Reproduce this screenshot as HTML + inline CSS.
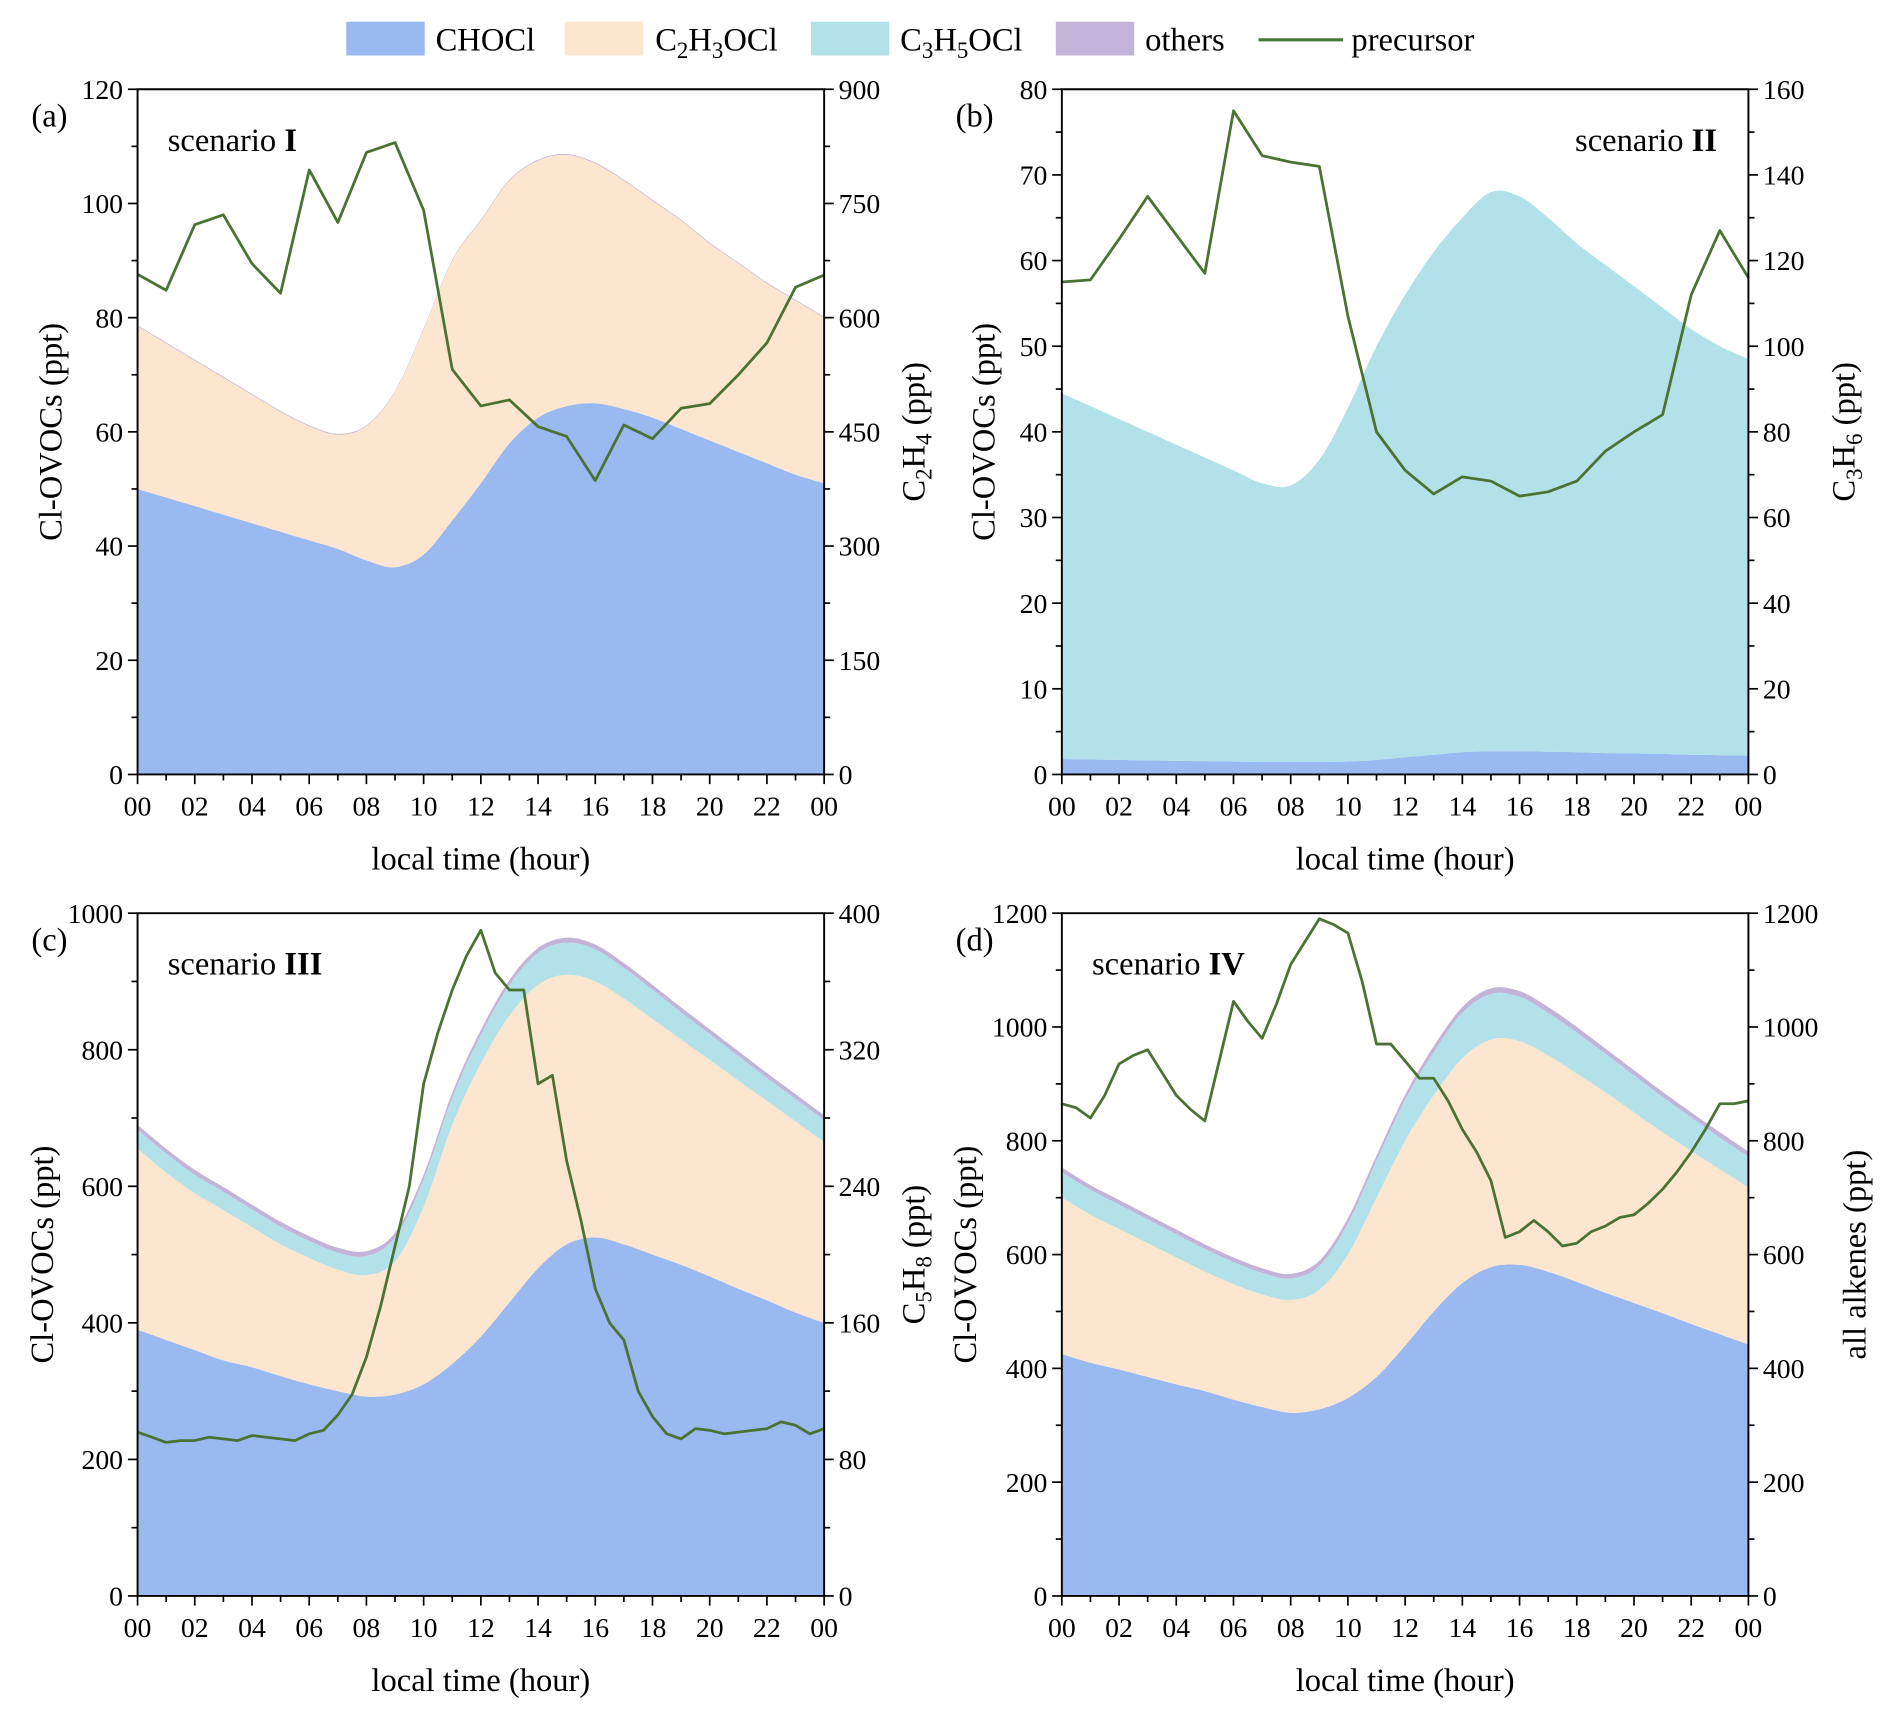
<!DOCTYPE html>
<html><head><meta charset="utf-8"><style>
html,body{margin:0;padding:0;background:#fff;}
svg{display:block;font-family:"Liberation Serif",serif;}
</style></head><body>
<svg id="fig" width="1892" height="1719" viewBox="0 0 1568 1425" preserveAspectRatio="none" xmlns="http://www.w3.org/2000/svg">
<g font-size="27">
 <rect x="287" y="18" width="65" height="28" fill="#9ab9f0"/>
 <text x="361" y="42">CHOCl</text>
 <rect x="468" y="18" width="65" height="28" fill="#fde6cf"/>
 <text x="543" y="42">C<tspan font-size="19" dy="6">2</tspan><tspan dy="-6">H</tspan><tspan font-size="19" dy="6">3</tspan><tspan dy="-6">OCl</tspan></text>
 <rect x="672" y="18" width="65" height="28" fill="#b3e1e9"/>
 <text x="746" y="42">C<tspan font-size="19" dy="6">3</tspan><tspan dy="-6">H</tspan><tspan font-size="19" dy="6">5</tspan><tspan dy="-6">OCl</tspan></text>
 <rect x="875" y="18" width="65" height="28" fill="#c4b3d9"/>
 <text x="949" y="42">others</text>
 <line x1="1043" y1="33" x2="1113" y2="33" stroke="#4a7232" stroke-width="2.5"/>
 <text x="1120" y="42">precursor</text>
</g>
</svg>
<script>
const hours=[0,1,2,3,4,5,6,7,8,9,10,11,12,13,14,15,16,17,18,19,20,21,22,23,24];
const halfHours=[0,0.5,1,1.5,2,2.5,3,3.5,4,4.5,5,5.5,6,6.5,7,7.5,8,8.5,9,9.5,10,10.5,11,11.5,12,12.5,13,13.5,14,14.5,15,15.5,16,16.5,17,17.5,18,18.5,19,19.5,20,20.5,21,21.5,22,22.5,23,23.5,24];
const xTickLabels=["00","02","04","06","08","10","12","14","16","18","20","22","00"];
// panel a
const aCHOCl=[50,48.5,47,45.5,44,42.5,41,39.5,37.5,36.3,38.5,44.5,51,58,62.5,64.5,65,64,62.5,60.5,58.5,56.5,54.5,52.5,51];
const aC2H3OCl=[28.5,27,25.5,24,22.5,21,20,20,23.5,30.7,39.5,45.5,46,46,45,44,42,40,38,36.5,34.5,33,31.5,30.5,29];
const aC3H5OCl=[0,0,0,0,0,0,0,0,0,0,0,0,0,0,0,0,0,0,0,0,0,0,0,0,0];
const aOthers=[0.15,0.15,0.15,0.15,0.15,0.15,0.15,0.15,0.15,0.15,0.15,0.15,0.15,0.15,0.15,0.15,0.15,0.15,0.15,0.15,0.15,0.15,0.15,0.15,0.15];
const aPrecursor=[657,636,722,735,671,632,794,725,817,830,741,532,484,492,457,444,386,459,441,481,487,525,567,640,656];
// panel b
const bCHOCl=[1.8,1.75,1.7,1.65,1.6,1.55,1.5,1.45,1.45,1.45,1.5,1.7,2,2.3,2.6,2.7,2.7,2.65,2.6,2.5,2.45,2.4,2.3,2.25,2.2];
const bC2H3OCl=[0,0,0,0,0,0,0,0,0,0,0,0,0,0,0,0,0,0,0,0,0,0,0,0,0];
const bC3H5OCl=[42.7,41.25,39.8,38.35,36.9,35.45,34,32.55,32.3,35.3,41.3,48.3,54,58.7,62.4,65.3,64.8,62.35,59.4,57,54.55,52.1,49.7,47.75,46.3];
const bOthers=[0,0,0,0,0,0,0,0,0,0,0,0,0,0,0,0,0,0,0,0,0,0,0,0,0];
const bPrecursor=[115,115.5,125,135,126,117,155,144.5,143,142,107,80,71,65.5,69.5,68.5,65,66,68.5,75.5,80,84,112,127,116];
// panel c
const cCHOCl=[390,375,360,345,335,322,310,300,292,295,310,340,380,430,480,515,525,515,500,485,468,450,433,415,400];
const cC2H3OCl=[265,245,230,220,205,193,185,178,178,195,260,350,400,420,415,395,375,360,345,330,317,305,292,280,265];
const cC3H5OCl=[28,28,27,27,26,26,25,25,28,35,40,40,42,45,47,47,47,45,43,40,38,36,34,33,32];
const cOthers=[7,7,7,7,7,7,7,7,7,7,7,7,7,7,7,7,7,7,7,7,7,7,7,7,7];
const cPrecursor=[96,93,90,91,91,93,92,91,94,93,92,91,95,97,106,118,140,170,205,240,300,330,355,375,390,365,355,355,300,305,255,220,180,160,150,120,105,95,92,98,97,95,96,97,98,102,100,95,98];
// panel d
const dCHOCl=[425,410,398,385,372,360,345,332,322,328,348,385,440,500,550,578,582,570,552,533,515,497,478,460,442];
const dC2H3OCl=[275,260,247,235,223,210,203,198,198,210,252,315,360,380,395,400,393,380,366,352,335,318,304,290,276];
const dC3H5OCl=[45,44,43,42,41,40,39,38,38,42,55,65,72,76,80,80,78,75,72,68,65,62,59,56,54];
const dOthers=[8,8,8,8,8,8,8,8,8,9,9,9,9,10,10,10,10,10,10,9,9,9,9,9,9];
const dPrecursor=[865,858,840,880,935,950,960,920,880,855,835,940,1045,1010,980,1040,1110,1150,1190,1180,1165,1080,970,970,940,910,910,870,820,780,730,630,640,660,640,615,620,640,650,665,670,690,715,745,780,820,865,865,870];

const NS="http://www.w3.org/2000/svg";
const svg=document.getElementById('fig');
function mk(tag,attrs,parent){const e=document.createElementNS(NS,tag);for(const k in attrs)e.setAttribute(k,attrs[k]);(parent||svg).appendChild(e);return e;}
const COLORS={CHOCl:"#9ab9f0",C2:"#fde6cf",C3:"#b3e1e9",oth:"#c4b3d9"};

const panels=[
 {id:"a",x0:114,x1:683,y0:74,y1:642,lmax:120,lmaj:20,rmax:900,rmaj:150,series:[aCHOCl,aC2H3OCl,aC3H5OCl,aOthers],prec:aPrecursor,px:hours,tag:"(a)",scen:"scenario ",num:"I",scenRight:false,lt:42,rt:757,rtitle:["C","2","H","4"," (ppt)"]},
 {id:"b",x0:880,x1:1449,y0:74,y1:642,lmax:80,lmaj:10,rmax:160,rmaj:20,series:[bCHOCl,bC2H3OCl,bC3H5OCl,bOthers],prec:bPrecursor,px:hours,tag:"(b)",scen:"scenario ",num:"II",scenRight:true,lt:815,rt:1528,rtitle:["C","3","H","6"," (ppt)"]},
 {id:"c",x0:114,x1:683,y0:757,y1:1323,lmax:1000,lmaj:200,rmax:400,rmaj:80,series:[cCHOCl,cC2H3OCl,cC3H5OCl,cOthers],prec:cPrecursor,px:halfHours,tag:"(c)",scen:"scenario ",num:"III",scenRight:false,lt:35,rt:757,rtitle:["C","5","H","8"," (ppt)"]},
 {id:"d",x0:880,x1:1449,y0:757,y1:1323,lmax:1200,lmaj:200,rmax:1200,rmaj:200,series:[dCHOCl,dC2H3OCl,dC3H5OCl,dOthers],prec:dPrecursor,px:halfHours,tag:"(d)",scen:"scenario ",num:"IV",scenRight:false,lt:800,rt:1537,rtitle:null}
];
const names=["chocl","c2h3ocl","c3h5ocl","others"];
const cols=[COLORS.CHOCl,COLORS.C2,COLORS.C3,COLORS.oth];

function smoothPts(xs,ys,n){const out=[];for(let i=0;i<xs.length-1;i++){const p0=[xs[Math.max(i-1,0)],ys[Math.max(i-1,0)]],p1=[xs[i],ys[i]],p2=[xs[i+1],ys[i+1]],p3=[xs[Math.min(i+2,xs.length-1)],ys[Math.min(i+2,xs.length-1)]];for(let k=0;k<n;k++){const t=k/n,t2=t*t,t3=t2*t;const f=(a,b,c,d)=>0.5*((2*b)+(-a+c)*t+(2*a-5*b+4*c-d)*t2+(-a+3*b-3*c+d)*t3);out.push([f(p0[0],p1[0],p2[0],p3[0]),f(p0[1],p1[1],p2[1],p3[1])]);}}out.push([xs[xs.length-1],ys[ys.length-1]]);return out;}

panels.forEach(P=>{
 const g=mk('g',{});
 
 
 const xs=h=>P.x0+(P.x1-P.x0)*h/24;
 const yl=v=>P.y1-(P.y1-P.y0)*v/P.lmax;
 const yr=v=>P.y1-(P.y1-P.y0)*v/P.rmax;
 let base=hours.map(()=>0);
 P.series.forEach((s,si)=>{
  const top=base.map((b,i)=>b+s[i]);
  if(s.some(v=>v>0)){
   const up=smoothPts(hours.map(xs),top.map(yl),8);
   const lo=smoothPts(hours.map(xs),base.map(yl),8).reverse();
   const pts=up.concat(lo).map(p=>p[0].toFixed(1)+','+Math.min(p[1],P.y1).toFixed(1)).join(' ');
   const e=mk('polygon',{points:pts,fill:cols[si]},g);
   
   
  }
  base=top;
 });
 const lp=P.prec.map((v,i)=>xs(P.px[i]).toFixed(1)+','+yr(v).toFixed(1)).join(' ');
 const line=mk('polyline',{points:lp,fill:'none',stroke:'#4a7232','stroke-width':'2.3','stroke-linejoin':'round'},g);
 
 
 mk('path',{d:`M${P.x0},${P.y1}V${P.y0}H${P.x1}V${P.y1}H${P.x0}`,fill:'none',stroke:'#000','stroke-width':'1.6'},g);
 for(let h=0;h<=24;h++){const x=xs(h);mk('line',{x1:x,y1:P.y1,x2:x,y2:P.y1+(h%2?5:8),stroke:'#000','stroke-width':'1.4'},g);}
 xTickLabels.forEach((t,i)=>{const e=mk('text',{x:xs(i*2),y:P.y1+34,'text-anchor':'middle','font-size':'23'},g);e.textContent=t;
  
  });
 for(let v=0;v<=P.lmax+1e-9;v+=P.lmaj/2){const y=yl(v);const maj=Math.abs(v/P.lmaj-Math.round(v/P.lmaj))<1e-6;mk('line',{x1:P.x0,y1:y,x2:P.x0-(maj?8:5),y2:y,stroke:'#000','stroke-width':'1.4'},g);
  if(maj){const e=mk('text',{x:P.x0-12,y:y+8,'text-anchor':'end','font-size':'23'},g);e.textContent=Math.round(v);
  
  }}
 for(let v=0;v<=P.rmax+1e-9;v+=P.rmaj/2){const y=yr(v);const maj=Math.abs(v/P.rmaj-Math.round(v/P.rmaj))<1e-6;mk('line',{x1:P.x1,y1:y,x2:P.x1+(maj?8:5),y2:y,stroke:'#000','stroke-width':'1.4'},g);
  if(maj){const e=mk('text',{x:P.x1+12,y:y+8,'text-anchor':'start','font-size':'23'},g);e.textContent=Math.round(v);
  
  }}
 const xt=mk('text',{x:(P.x0+P.x1)/2,y:P.y1+79,'text-anchor':'middle','font-size':'27'},g);xt.textContent='local time (hour)';
 
 
 const cy=(P.y0+P.y1)/2;
 const lt=mk('text',{x:P.lt,y:cy,'text-anchor':'middle','font-size':'27',transform:`rotate(-90 ${P.lt} ${cy})`,dy:'9'},g);lt.textContent='Cl-OVOCs (ppt)';
 
 
 const rt=mk('text',{x:P.rt,y:cy,'text-anchor':'middle','font-size':'27',transform:`rotate(-90 ${P.rt} ${cy})`,dy:'9'},g);
 
 
 if(P.rtitle){rt.innerHTML=`C<tspan font-size="19" dy="6">${P.rtitle[1]}</tspan><tspan dy="-6">H</tspan><tspan font-size="19" dy="6">${P.rtitle[3]}</tspan><tspan dy="-6"> (ppt)</tspan>`;}
 else rt.textContent='all alkenes (ppt)';
 const tg=mk('text',{x:P.x0-88,y:P.y0+31,'font-size':'27'},g);tg.textContent=P.tag;
 
 
 const sc=P.scenRight?mk('text',{x:P.x1-26,y:P.y0+51,'text-anchor':'end','font-size':'27'},g):mk('text',{x:P.x0+25,y:P.y0+51,'font-size':'27'},g);
 sc.innerHTML=P.scen+'<tspan font-weight="bold">'+P.num+'</tspan>';
 
 
});
</script>
</body></html>
